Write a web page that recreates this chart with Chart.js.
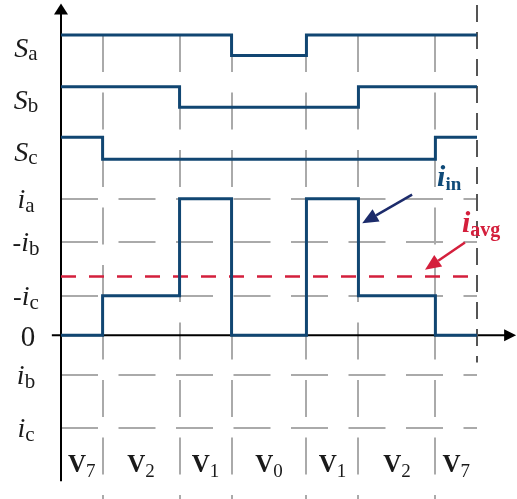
<!DOCTYPE html>
<html>
<head>
<meta charset="utf-8">
<script src="https://cdn.jsdelivr.net/npm/chart.js@4/dist/chart.umd.min.js"></script>
<style>
  body { margin: 0; background: #fff; }
  canvas { display: block; }
</style>
</head>
<body>
<canvas id="chart" width="517" height="499"></canvas>
<script>
// one switching period, time in % of Ts
const vectors = ["V_7", "V_2", "V_1", "V_0", "V_1", "V_2", "V_7"];
const bounds = [0, 10, 28.5, 41, 59, 71.5, 90, 100];

// switch states in each interval
const sa = [1, 1, 1, 0, 1, 1, 1];
const sb = [1, 1, 0, 0, 0, 1, 1];
const sc = [1, 0, 0, 0, 0, 0, 1];

// rails of the switch signals
const switchNames = ["S_a", "S_b", "S_c"];
const switchHigh = [2.2, 1.82, 1.45];
const switchLow = [2.05, 1.67, 1.29];

// current levels on the y axis
const levelNames = ["i_a", "-i_b", "-i_c", "0", "i_b", "i_c"];
const levelValues = [1, 0.68, 0.29, 0, -0.29, -0.68];

// dc input current in each interval, and its average
const iin = [0, 0.29, 1, 0, 1, 0.29, 0];
const iavg = 0.43;

// annotations (data units)
const inArrow = [[84.4, 1.03], [72.4, 0.82]];
const avgArrow = [[97.1, 0.68], [87.5, 0.48]];
const inLabelPos = [90.4, 1.09];
const avgLabelPos = [96.4, 0.76];
const periodEnd = [2.42, -0.2];
const xAxisRange = [-2.2, 109.4];
const yAxisRange = [-1.07, 2.43];
const vectorLabelY = -1.0;

const BLUE = "#114672";
const RED = "#d41f3c";
const GRAY = "#aaaaaa";
const SERIF = "'Liberation Serif', 'Times New Roman', serif";

function steps(vals) {
  const pts = vals.map((v, i) => ({ x: bounds[i], y: v }));
  pts.push({ x: bounds[bounds.length - 1], y: vals[vals.length - 1] });
  return pts;
}

const sw = [sa, sb, sc].map((s, k) => s.map(v => v ? switchHigh[k] : switchLow[k]));

const lineDefaults = {
  borderColor: BLUE, borderWidth: 3, pointRadius: 0, stepped: true,
  clip: false, borderJoinStyle: "miter", borderCapStyle: "butt", fill: false
};

function rich(ctx, parts, x, y, align) {
  let w = 0;
  parts.forEach(p => { ctx.font = p.font; p.w = ctx.measureText(p.t).width; w += p.w; });
  let cx = align === "center" ? x - w / 2 : x;
  ctx.textAlign = "left";
  ctx.textBaseline = "alphabetic";
  parts.forEach(p => {
    ctx.font = p.font;
    if (p.color) ctx.fillStyle = p.color;
    ctx.fillText(p.t, cx, y + (p.dy || 0));
    cx += p.w;
  });
}

function arrow(ctx, x0, y0, x1, y1, color) {
  const a = Math.atan2(y1 - y0, x1 - x0);
  const len = 16, hw = 7;
  const bx = x1 - len * Math.cos(a), by = y1 - len * Math.sin(a);
  ctx.strokeStyle = color;
  ctx.fillStyle = color;
  ctx.lineWidth = 2.5;
  ctx.beginPath();
  ctx.moveTo(x0, y0);
  ctx.lineTo(bx, by);
  ctx.stroke();
  ctx.beginPath();
  ctx.moveTo(x1, y1);
  ctx.lineTo(bx + hw * Math.sin(a), by - hw * Math.cos(a));
  ctx.lineTo(bx - hw * Math.sin(a), by + hw * Math.cos(a));
  ctx.closePath();
  ctx.fill();
}

const decor = {
  id: "decor",
  beforeDatasetsDraw(chart) {
    const { ctx, scales: { x, y } } = chart;
    ctx.save();
    ctx.strokeStyle = "#000";
    ctx.fillStyle = "#000";
    ctx.lineWidth = 2;
    const x0 = x.getPixelForValue(0), y0 = y.getPixelForValue(0);
    const xr = x.getPixelForValue(xAxisRange[1]);
    const yt = y.getPixelForValue(yAxisRange[1]);
    ctx.beginPath();
    ctx.moveTo(x.getPixelForValue(xAxisRange[0]), y0);
    ctx.lineTo(xr - 8, y0);
    ctx.moveTo(x0, y.getPixelForValue(yAxisRange[0]));
    ctx.lineTo(x0, yt + 8);
    ctx.stroke();
    ctx.beginPath();
    ctx.moveTo(xr, y0); ctx.lineTo(xr - 12, y0 - 6); ctx.lineTo(xr - 12, y0 + 6);
    ctx.closePath(); ctx.fill();
    ctx.beginPath();
    ctx.moveTo(x0, yt); ctx.lineTo(x0 - 7, yt + 11); ctx.lineTo(x0 + 7, yt + 11);
    ctx.closePath(); ctx.fill();
    ctx.restore();
  },
  afterDatasetsDraw(chart) {
    const { ctx, scales: { x, y } } = chart;
    ctx.save();
    ctx.fillStyle = "#1a1a1a";
    const labX = 26;

    // switch labels
    switchNames.forEach((n, k) => {
      const [m, s] = n.split("_");
      rich(ctx, [
        { t: m, font: "italic 28px " + SERIF },
        { t: s, font: "21px " + SERIF, dy: 3 }
      ], labX, y.getPixelForValue(switchLow[k]) + 2, "center");
    });

    // current level labels
    levelNames.forEach((n, k) => {
      const py = y.getPixelForValue(levelValues[k]);
      if (n === "0") {
        rich(ctx, [{ t: "0", font: "29px " + SERIF }], labX + 2, py + 11, "center");
        return;
      }
      const [m, s] = n.split("_");
      const parts = [];
      if (m[0] === "-") parts.push({ t: "-", font: "26px " + SERIF });
      parts.push({ t: m.replace("-", ""), font: "italic 28px " + SERIF });
      parts.push({ t: s, font: "21px " + SERIF, dy: 4 });
      rich(ctx, parts, labX, py + 9, "center");
    });

    // vector labels
    vectors.forEach((v, k) => {
      const [m, s] = v.split("_");
      const cx = (x.getPixelForValue(bounds[k]) + x.getPixelForValue(bounds[k + 1])) / 2;
      rich(ctx, [
        { t: m, font: "bold 25px " + SERIF },
        { t: s, font: "19px " + SERIF, dy: 5 }
      ], cx, y.getPixelForValue(vectorLabelY), "center");
    });

    // annotations
    const px = p => [x.getPixelForValue(p[0]), y.getPixelForValue(p[1])];
    const a = px(inArrow[0]), b = px(inArrow[1]);
    arrow(ctx, a[0], a[1], b[0], b[1], "#1c2b6b");
    const c = px(avgArrow[0]), d = px(avgArrow[1]);
    arrow(ctx, c[0], c[1], d[0], d[1], RED);

    const li = px(inLabelPos);
    rich(ctx, [
      { t: "i", font: "bold italic 30px " + SERIF, color: "#0f4a78" },
      { t: "in", font: "bold 19px " + SERIF, dy: 4 }
    ], li[0], li[1], "left");
    const la = px(avgLabelPos);
    rich(ctx, [
      { t: "i", font: "bold italic 30px " + SERIF, color: RED },
      { t: "avg", font: "bold 20px " + SERIF, dy: 4 }
    ], la[0], la[1], "left");
    ctx.restore();
  }
};

const gridOpts = {
  grid: { color: GRAY, lineWidth: 2, drawTicks: false },
  ticks: { display: false },
  border: { display: false, dash: [37, 20.5] }
};

new Chart(document.getElementById("chart"), {
  type: "line",
  data: {
    datasets: [
      { ...lineDefaults, data: steps(iin) },
      { ...lineDefaults, data: steps(sw[0]) },
      { ...lineDefaults, data: steps(sw[1]) },
      { ...lineDefaults, data: steps(sw[2]) },
      { ...lineDefaults, stepped: false, borderColor: RED, borderWidth: 2.5, borderDash: [15, 13],
        data: [{ x: bounds[0], y: iavg }, { x: bounds[bounds.length - 1], y: iavg }] },
      { ...lineDefaults, stepped: false, borderColor: "#555", borderWidth: 2, borderDash: [17, 10],
        data: [{ x: bounds[bounds.length - 1], y: periodEnd[0] }, { x: bounds[bounds.length - 1], y: periodEnd[1] }] }
    ]
  },
  options: {
    responsive: false,
    animation: false,
    events: [],
    layout: { padding: { left: 61, right: 40, top: 35, bottom: 0 } },
    plugins: { legend: { display: false }, tooltip: { enabled: false } },
    scales: {
      x: {
        type: "linear", min: 0, max: 100, ...gridOpts,
        afterBuildTicks: s => { s.ticks = bounds.slice(1, -1).map(v => ({ value: v })); }
      },
      y: {
        type: "linear", min: -1.2, max: 2.2, ...gridOpts,
        afterBuildTicks: s => { s.ticks = levelValues.filter(v => v !== 0).map(v => ({ value: v })); }
      }
    }
  },
  plugins: [decor]
});
</script>
</body>
</html>
